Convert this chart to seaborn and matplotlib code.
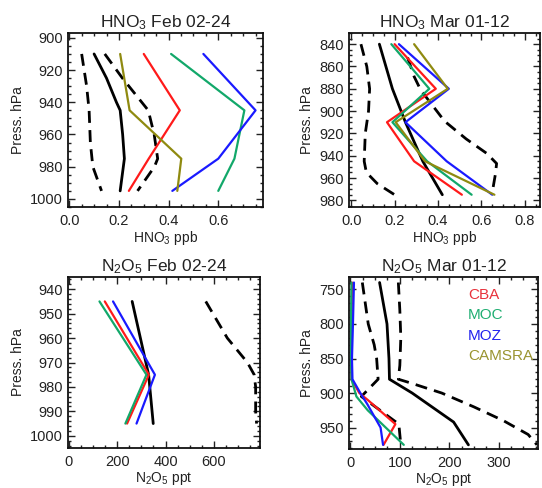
import numpy as np
import pandas as pd
import matplotlib
matplotlib.use("Agg")
import matplotlib.pyplot as plt
from matplotlib.ticker import MultipleLocator, AutoMinorLocator, FormatStrFormatter
import seaborn as sns

# ---------------- data ----------------
# Panel 1: HNO3 Feb 02-24 (ppb)
p1_lev = [910, 945, 975, 995]
p1_cba = [0.30, 0.445, 0.32, 0.24]
p1_moc = [0.41, 0.705, 0.665, 0.60]
p1_moz = [0.54, 0.75, 0.60, 0.415]
p1_cams = [0.205, 0.243, 0.451, 0.435]
p1_obs_lev = [910, 925, 940, 945, 960, 975, 995]
p1_obs = [0.10, 0.15, 0.19, 0.205, 0.215, 0.222, 0.205]
p1_lo_lev = [910, 930, 945, 965, 980, 995]
p1_lo = [0.05, 0.07, 0.08, 0.085, 0.095, 0.13]
p1_hi_lev = [910, 925, 945, 960, 975, 980, 995]
p1_hi = [0.143, 0.214, 0.318, 0.342, 0.356, 0.343, 0.275]

# Panel 2: HNO3 Mar 01-12 (ppb)
p2_lev = [840, 880, 910, 945, 975]
p2_cba = [0.20, 0.39, 0.165, 0.29, 0.51]
p2_moc = [0.185, 0.36, 0.19, 0.35, 0.555]
p2_moz = [0.22, 0.45, 0.25, 0.44, 0.65]
p2_cams = [0.29, 0.445, 0.205, 0.34, 0.66]
p2_obs_lev = [840, 880, 910, 945, 975]
p2_obs = [0.13, 0.19, 0.25, 0.33, 0.42]
p2_lo_lev = [840, 860, 880, 900, 920, 945, 955, 965, 975]
p2_lo = [0.045, 0.072, 0.085, 0.08, 0.065, 0.06, 0.07, 0.12, 0.20]
p2_hi_lev = [852, 869, 881, 909, 925, 938, 947, 956, 973]
p2_hi = [0.26, 0.29, 0.32, 0.43, 0.53, 0.625, 0.67, 0.665, 0.65]

# Panel 3: N2O5 Feb 02-24 (ppt)
p3_lev = [945, 975, 995]
p3_cba = [149, 331, 241]
p3_moc = [127, 321, 234]
p3_moz = [183, 356, 280]
p3_obs_lev = [945, 975, 995]
p3_obs = [262, 330, 349]
p3_hi_lev = [945, 960, 970, 975, 980, 990, 995]
p3_hi = [566, 655, 738, 766, 772, 772, 776]

# Panel 4: N2O5 Mar 01-12 (ppt)
p4_cba_lev = [740, 800, 850, 880, 900, 910, 945, 975]
p4_cba = [3, 2, 1, 2, 18, 35, 91, 67]
p4_moc_lev = [740, 800, 850, 880, 905, 925, 975]
p4_moc = [2, 1, 1, 2, 12, 35, 108]
p4_moz_lev = [740, 800, 850, 880, 900, 916, 950, 975]
p4_moz = [7, 5, 3, 4, 20, 34, 61, 66]
p4_obs_lev = [740, 800, 850, 880, 900, 942, 975]
p4_obs = [59, 74, 78, 79, 125, 209, 239]
p4_lo_lev = [740, 770, 800, 830, 850, 880, 905, 945, 975]
p4_lo = [24, 30, 36, 48, 53, 56, 22, 98, 102]
p4_hi_lev = [740, 780, 820, 860, 880, 885, 900, 920, 940, 960, 975]
p4_hi = [97, 100, 102, 100, 97, 120, 185, 250, 310, 360, 378]

legend_names = ["CBA", "MOC", "MOZ", "CAMSRA"]

# ---------------- style ----------------
sns.set_style("ticks")
plt.rcParams["font.family"] = ["Liberation Sans", "DejaVu Sans"]
plt.rcParams["mathtext.fontset"] = "custom"
plt.rcParams["mathtext.rm"] = "Liberation Sans"
plt.rcParams["mathtext.it"] = "Liberation Sans:italic"
plt.rcParams["mathtext.default"] = "rm"
plt.rcParams["text.color"] = "#222222"
plt.rcParams["axes.labelcolor"] = "#222222"
plt.rcParams["xtick.color"] = "#222222"
plt.rcParams["ytick.color"] = "#222222"

COL = {"CBA": "#ff1a1a", "MOC": "#12a86a", "MOZ": "#1a1aff", "CAMSRA": "#8f8a10"}
LEGCOL = {"CBA": "#e8323c", "MOC": "#1fae72", "MOZ": "#2222ee", "CAMSRA": "#9a9430"}
W, H = 542, 488

fig = plt.figure(figsize=(W / 100, H / 100), dpi=100)


def make_ax(l, r, t, b):
    return fig.add_axes([l / W, 1 - b / H, (r - l) / W, (b - t) / H])


def draw(ax, x, y, color, style="-", lw=1.6):
    df = pd.DataFrame({"value": x, "pressure": y})
    sns.lineplot(data=df, x="value", y="pressure", sort=False, estimator=None,
                 color=color, lw=lw, ax=ax)
    if style == "--":
        ax.lines[-1].set_linestyle((0, (4.3, 2.6)))


def style_ax(ax, title, xlabel, xmaj, xminn, ymaj, yminn):
    ax.set_title(title, fontsize=12.5, pad=4)
    ax.set_xlabel(xlabel, fontsize=10, labelpad=1)
    ax.set_ylabel("Press. hPa", fontsize=10, labelpad=4)
    ax.xaxis.set_major_locator(MultipleLocator(xmaj))
    ax.xaxis.set_minor_locator(AutoMinorLocator(xminn))
    ax.yaxis.set_major_locator(MultipleLocator(ymaj))
    ax.yaxis.set_minor_locator(AutoMinorLocator(yminn))
    ax.tick_params(which="both", direction="in", top=True, right=True, labelsize=10.5)
    ax.tick_params(which="major", length=5, width=1.0)
    ax.tick_params(which="minor", length=2.5, width=1.0)
    ax.tick_params(axis="x", pad=5)
    for s in ax.spines.values():
        s.set_linewidth(1.3)
        s.set_color("#111111")


# Panel 1
ax1 = make_ax(68, 263, 33, 207)
draw(ax1, p1_lo, p1_lo_lev, "black", "--", 2.0)
draw(ax1, p1_hi, p1_hi_lev, "black", "--", 2.0)
draw(ax1, p1_obs, p1_obs_lev, "black", "-", 2.0)
draw(ax1, p1_cba, p1_lev, COL["CBA"])
draw(ax1, p1_moc, p1_lev, COL["MOC"])
draw(ax1, p1_moz, p1_lev, COL["MOZ"])
draw(ax1, p1_cams, p1_lev, COL["CAMSRA"])
ax1.set_xlim(-0.005, 0.78)
ax1.set_ylim(1005, 897)
style_ax(ax1, r"HNO$_3$ Feb 02-24", r"HNO$_3$ ppb", 0.2, 4, 20, 4)
ax1.xaxis.set_major_formatter(FormatStrFormatter("%.1f"))

# Panel 2
ax2 = make_ax(349, 540, 33, 207)
draw(ax2, p2_lo, p2_lo_lev, "black", "--", 2.0)
draw(ax2, p2_hi, p2_hi_lev, "black", "--", 2.0)
draw(ax2, p2_obs, p2_obs_lev, "black", "-", 2.0)
draw(ax2, p2_cba, p2_lev, COL["CBA"])
draw(ax2, p2_moc, p2_lev, COL["MOC"])
draw(ax2, p2_moz, p2_lev, COL["MOZ"])
draw(ax2, p2_cams, p2_lev, COL["CAMSRA"])
ax2.set_xlim(-0.01, 0.87)
ax2.set_ylim(986, 830)
style_ax(ax2, r"HNO$_3$ Mar 01-12", r"HNO$_3$ ppb", 0.2, 4, 20, 4)
ax2.xaxis.set_major_formatter(FormatStrFormatter("%.1f"))

# Panel 3
ax3 = make_ax(68, 260, 277, 448)
draw(ax3, p3_hi, p3_hi_lev, "black", "--", 2.0)
draw(ax3, p3_obs, p3_obs_lev, "black", "-", 2.0)
draw(ax3, p3_cba, p3_lev, COL["CBA"])
draw(ax3, p3_moc, p3_lev, COL["MOC"])
draw(ax3, p3_moz, p3_lev, COL["MOZ"])
ax3.set_xlim(-3, 790)
ax3.set_ylim(1005, 935)
style_ax(ax3, r"N$_2$O$_5$ Feb 02-24", r"N$_2$O$_5$ ppt", 200, 4, 10, 5)

# Panel 4
ax4 = make_ax(349, 538, 277, 449)
draw(ax4, p4_lo, p4_lo_lev, "black", "--", 2.0)
draw(ax4, p4_hi, p4_hi_lev, "black", "--", 2.0)
draw(ax4, p4_obs, p4_obs_lev, "black", "-", 2.0)
draw(ax4, p4_cba, p4_cba_lev, COL["CBA"])
draw(ax4, p4_moc, p4_moc_lev, COL["MOC"])
draw(ax4, p4_moz, p4_moz_lev, COL["MOZ"])
ax4.set_xlim(-3, 380)
ax4.set_ylim(981, 732)
style_ax(ax4, r"N$_2$O$_5$ Mar 01-12", r"N$_2$O$_5$ ppt", 100, 4, 50, 5)

for i, name in enumerate(legend_names):
    fig.text(468 / W, 1 - (295 + 20.3 * i) / H, name,
             color=LEGCOL[name], fontsize=11, va="center", ha="left")

for ax in (ax1, ax2, ax3, ax4):
    leg = ax.get_legend()
    if leg is not None:
        leg.remove()

fig.savefig("out.png", dpi=100)
